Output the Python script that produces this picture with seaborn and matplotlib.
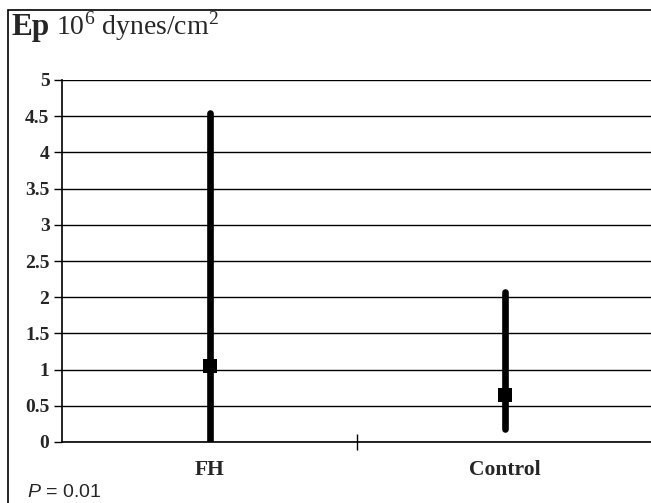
import numpy as np
import pandas as pd
import matplotlib
matplotlib.use('Agg')
import matplotlib.pyplot as plt
import seaborn as sns
from matplotlib.patches import Rectangle

# Values (range and median per group)
groups = ['FH', 'Control']
low_vals = [0.0, 0.18]
high_vals = [4.55, 2.07]
median_vals = [1.05, 0.65]
ytick_vals = [0, 0.5, 1, 1.5, 2, 2.5, 3, 3.5, 4, 4.5, 5]
ytick_labels = ['0', '0.5', '1', '1.5', '2', '2.5', '3', '3.5', '4', '4.5', '5']

df = pd.DataFrame({'group': groups, 'low': low_vals, 'high': high_vals, 'median': median_vals})

sns.set_style('white')
plt.rcParams['font.family'] = ['Liberation Serif', 'DejaVu Serif']
plt.rcParams['mathtext.fontset'] = 'custom'
plt.rcParams['mathtext.rm'] = 'Liberation Serif'
plt.rcParams['mathtext.it'] = 'Liberation Sans:italic'

fig = plt.figure(figsize=(6.51, 5.03), dpi=100)
ax = fig.add_axes([62 / 651, 61 / 503, 590 / 651, 362 / 503])

# horizontal grid lines
for v in ytick_vals:
    ax.axhline(v, color='black', lw=1.0, zorder=1)

# range bars
ax.vlines(df['group'], df['low'], df['high'], color='black', lw=4.8,
          capstyle='round', zorder=3)
# medians
sns.scatterplot(data=df, x='group', y='median', marker='s', s=100, color='black',
                edgecolor='black', linewidth=0, ax=ax, zorder=4, legend=False)

ax.set_xlim(-0.5, 1.5)
ax.set_ylim(0, 5)
ax.set_yticks(ytick_vals)
ax.set_yticklabels(ytick_labels, fontsize=14, fontweight='bold')
ax.set_xticks([0.5], minor=False)
ax.set_xticklabels([''])
ax.tick_params(axis='y', direction='out', length=6, width=1, color='black', pad=3, left=True)
ax.tick_params(axis='x', direction='inout', length=12, width=1, color='black', bottom=True)
ax.set_xlabel('')
ax.set_ylabel('')
for i, g in enumerate(groups):
    ax.text(i, -0.39, g, ha='center', va='center', fontsize=15.5, fontweight='bold',
            transform=ax.transData)

for side in ['top', 'right']:
    ax.spines[side].set_visible(False)
ax.spines['left'].set_linewidth(1.2)
ax.spines['bottom'].set_linewidth(1.2)
ax.spines['left'].set_color('black')
ax.spines['bottom'].set_color('black')

# outer frame
fig.patches.append(Rectangle((8 / 651, -0.1), 1.2, 1.1 - 10 / 503, transform=fig.transFigure,
                             fill=False, edgecolor='black', lw=1.2))

fig.text(12 / 651, 1 - 35 / 503, 'Ep', fontsize=22.5, fontweight='bold', va='baseline')
fig.text(56 / 651, 1 - 35 / 503, r'$10^6$ dynes/cm$^2$', fontsize=20, va='baseline')
fig.text(27 / 651, 1 - 497 / 503, r'$\mathit{P}$ = 0.01', fontsize=14,
         family=['Liberation Sans', 'DejaVu Sans'], va='baseline')

fig.savefig('out.png', dpi=100)
